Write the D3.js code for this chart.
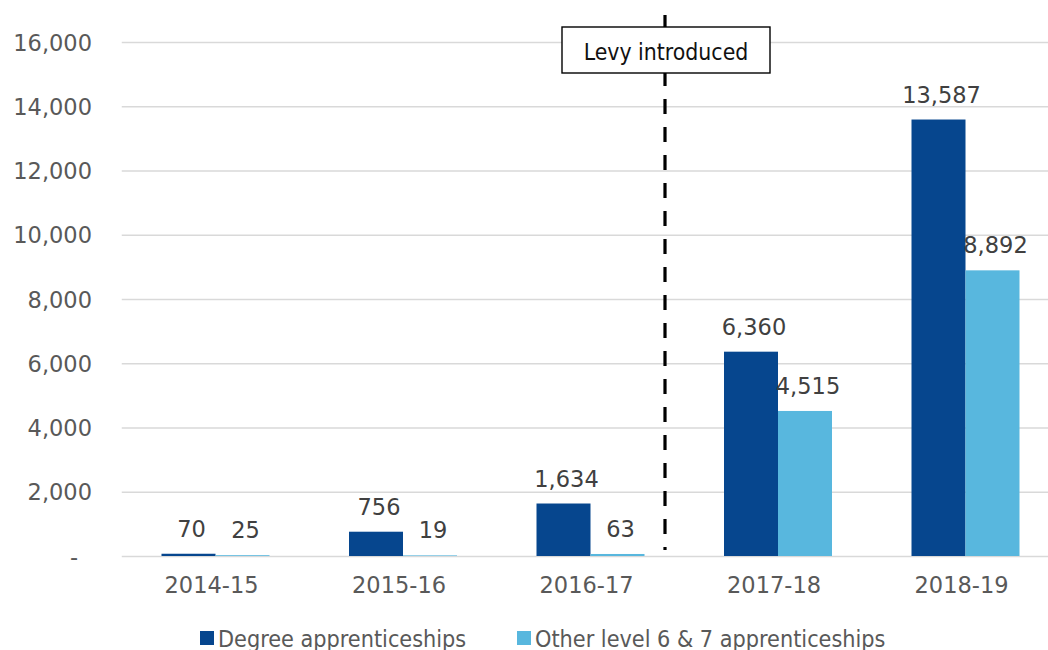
<!DOCTYPE html>
<html>
<head>
<meta charset="utf-8">
<script src="https://cdn.jsdelivr.net/npm/d3@7"></script>
<style>
  body { margin: 0; background: #fff; }
  svg { display: block; }
</style>
</head>
<body>
<div id="chart-area"></div>
<script>
const categories = ["2014-15", "2015-16", "2016-17", "2017-18", "2018-19"];
const seriesNames = ["Degree apprenticeships", "Other level 6 & 7 apprenticeships"];
const degree = [70, 756, 1634, 6360, 13587];
const otherL67 = [25, 19, 63, 4515, 8892];
const yTicks = [0, 2000, 4000, 6000, 8000, 10000, 12000, 14000, 16000];
const levyLabel = "Levy introduced";

const colors = ["#06468e", "#58b7de"];
const numFont = "'DejaVu Sans', sans-serif";
const txtFont = "'DejaVu Sans Condensed', 'DejaVu Sans', sans-serif";

const W = 1048, H = 650;
const plot = { left: 121.75, right: 1059.25, top: 42, bottom: 556 };

const svg = d3.select("#chart-area")
  .append("svg")
    .attr("width", W)
    .attr("height", H);

svg.append("rect").attr("width", W).attr("height", H).attr("fill", "#fff");

const x0 = d3.scaleBand()
  .domain(categories)
  .range([plot.left, plot.right])
  .paddingInner(0.424)
  .paddingOuter(0.212);

const x1 = d3.scaleBand()
  .domain([0, 1])
  .range([0, x0.bandwidth()]);

const y = d3.scaleLinear()
  .domain([0, 16000])
  .range([plot.bottom, plot.top]);

// gridlines
const grid = svg.append("g")
  .attr("transform", `translate(${plot.left},0)`)
  .call(d3.axisLeft(y).tickValues(yTicks).tickSize(-(plot.right - plot.left)).tickFormat(""));
grid.select(".domain").remove();
grid.selectAll("line").attr("stroke", "#d9d9d9").attr("stroke-width", 1.4);

// y tick labels
const yAxis = svg.append("g")
  .attr("transform", "translate(92,0)")
  .call(d3.axisLeft(y).tickValues(yTicks).tickSize(0).tickPadding(0)
    .tickFormat(d => d === 0 ? "-" : d3.format(",")(d)));
yAxis.select(".domain").remove();
yAxis.selectAll("text")
  .attr("font-family", numFont)
  .attr("font-size", 22.5)
  .attr("fill", "#595959")
  .attr("dy", "0.36em")
  .attr("x", d => d === 0 ? -14 : 0);

// x labels
const xAxis = svg.append("g")
  .attr("transform", `translate(0,${plot.bottom})`)
  .call(d3.axisBottom(x0).tickSize(0).tickPadding(0));
xAxis.select(".domain").remove();
xAxis.selectAll("text")
  .attr("font-family", numFont)
  .attr("font-size", 22.5)
  .attr("fill", "#595959")
  .attr("dy", 0)
  .attr("y", 37)
  .attr("x", -4);

// bars
const rows = categories.map((c, i) => ({ cat: c, vals: [degree[i], otherL67[i]] }));

const groups = svg.selectAll("g.grp")
  .data(rows)
  .enter()
  .append("g")
    .attr("class", "grp")
    .attr("transform", d => `translate(${x0(d.cat)},0)`);

groups.selectAll("rect")
  .data(d => d.vals.map((v, k) => ({ v, k })))
  .enter()
  .append("rect")
    .attr("x", d => x1(d.k))
    .attr("width", x1.bandwidth())
    .attr("y", d => y(d.v))
    .attr("height", d => y(0) - y(d.v))
    .attr("fill", d => colors[d.k]);

groups.selectAll("text")
  .data(d => d.vals.map((v, k) => ({ v, k })))
  .enter()
  .append("text")
    .attr("x", d => x1(d.k) + x1.bandwidth() / 2 + 3)
    .attr("y", d => y(d.v) - 17)
    .attr("text-anchor", "middle")
    .attr("font-family", numFont)
    .attr("font-size", 22.5)
    .attr("fill", "#404040")
    .text(d => d3.format(",")(d.v));

// levy line and label
const levyX = 665;
svg.append("line")
  .attr("x1", levyX).attr("x2", levyX)
  .attr("y1", 15).attr("y2", plot.bottom - 6)
  .attr("stroke", "#000")
  .attr("stroke-width", 3.2)
  .attr("stroke-dasharray", "15,13");

svg.append("rect")
  .attr("x", 562).attr("y", 27)
  .attr("width", 208).attr("height", 46)
  .attr("fill", "#fff")
  .attr("stroke", "#000")
  .attr("stroke-width", 1.4);

svg.append("text")
  .attr("x", levyX + 1)
  .attr("y", 60)
  .attr("text-anchor", "middle")
  .attr("font-family", txtFont)
  .attr("font-size", 22.8)
  .attr("fill", "#111")
  .text(levyLabel);

// legend
const legendPos = [200, 517];
const legend = svg.selectAll("g.leg")
  .data(seriesNames)
  .enter()
  .append("g")
    .attr("class", "leg")
    .attr("transform", (d, i) => `translate(${legendPos[i]},631)`);

legend.append("rect")
  .attr("width", 14)
  .attr("height", 14)
  .attr("fill", (d, i) => colors[i]);

legend.append("text")
  .attr("x", 18)
  .attr("y", 15.5)
  .attr("font-family", txtFont)
  .attr("font-size", 23.2)
  .attr("fill", "#595959")
  .text(d => d);
</script>
</body>
</html>
